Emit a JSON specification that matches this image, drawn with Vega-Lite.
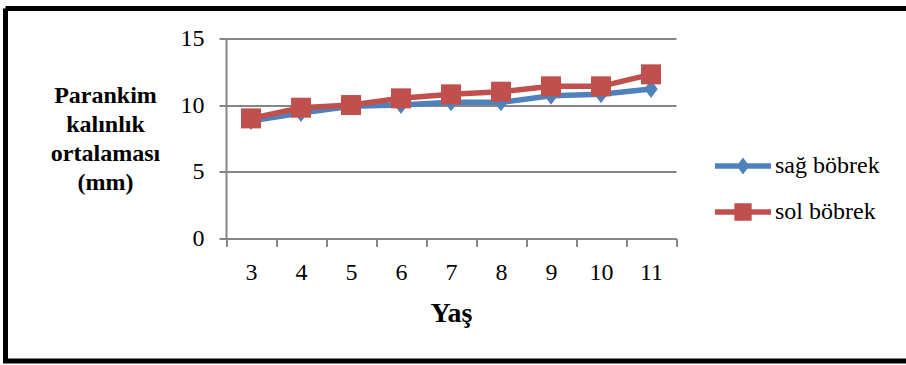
{
  "$schema": "https://vega.github.io/schema/vega-lite/v6.json",
  "width": 900.5,
  "height": 352.5,
  "autosize": {"type": "none"},
  "padding": {"left": 5.5, "top": 8.5, "right": 0, "bottom": 4},
  "background": "white",
  "config": {
    "font": "Times New Roman, Liberation Serif, serif",
    "view": {"stroke": "black", "strokeWidth": 5, "strokeDash": [900.5, 352.5, 1253, 0], "fill": "white"}
  },
  "data": {
    "values": [
      {"age": 3, "series": "sağ böbrek", "value": 8.8},
      {"age": 4, "series": "sağ böbrek", "value": 9.4},
      {"age": 5, "series": "sağ böbrek", "value": 9.9},
      {"age": 6, "series": "sağ böbrek", "value": 10.0},
      {"age": 7, "series": "sağ böbrek", "value": 10.2},
      {"age": 8, "series": "sağ böbrek", "value": 10.2},
      {"age": 9, "series": "sağ böbrek", "value": 10.7},
      {"age": 10, "series": "sağ böbrek", "value": 10.8},
      {"age": 11, "series": "sağ böbrek", "value": 11.2},
      {"age": 3, "series": "sol böbrek", "value": 9.0},
      {"age": 4, "series": "sol böbrek", "value": 9.8},
      {"age": 5, "series": "sol böbrek", "value": 10.0},
      {"age": 6, "series": "sol böbrek", "value": 10.5},
      {"age": 7, "series": "sol böbrek", "value": 10.8},
      {"age": 8, "series": "sol böbrek", "value": 11.0},
      {"age": 9, "series": "sol böbrek", "value": 11.4},
      {"age": 10, "series": "sol böbrek", "value": 11.4},
      {"age": 11, "series": "sol böbrek", "value": 12.3}
    ]
  },
  "encoding": {
    "x": {
      "field": "age",
      "type": "ordinal",
      "scale": {"type": "band", "range": [220.5, 670.5], "paddingInner": 0, "paddingOuter": 0},
      "axis": {
        "title": "Yaş",
        "labelAngle": 0,
        "offset": -122.5,
        "tickBand": "extent",
        "tickSize": 8,
        "tickWidth": 2,
        "tickColor": "#868686",
        "domainColor": "#868686",
        "domainWidth": 2,
        "labelPadding": 13.5,
        "labelFont": "Times New Roman, Liberation Serif, serif",
        "labelFontSize": 24,
        "labelColor": "black",
        "titleFont": "Times New Roman, Liberation Serif, serif",
        "titleFontSize": 28,
        "titleFontWeight": "bold",
        "titleColor": "black",
        "titleX": 445.5,
        "titleY": 83.2,
        "titleAlign": "center",
        "titleBaseline": "alphabetic",
        "grid": false
      }
    },
    "y": {
      "field": "value",
      "type": "quantitative",
      "scale": {"domain": [0, 15], "range": [230, 29.8], "nice": false, "zero": true},
      "axis": {
        "title": ["Parankim", "kalınlık", "ortalaması", "(mm)"],
        "values": [0, 5, 10, 15],
        "offset": -220.5,
        "tickSize": 7,
        "tickWidth": 2,
        "tickColor": "#868686",
        "domainColor": "#868686",
        "domainWidth": 2,
        "labelPadding": 15,
        "labelFont": "Times New Roman, Liberation Serif, serif",
        "labelFontSize": 24,
        "labelColor": "black",
        "grid": true,
        "gridColor": "#868686",
        "gridWidth": 2,
        "titleFont": "Times New Roman, Liberation Serif, serif",
        "titleFontSize": 24,
        "titleFontWeight": "bold",
        "titleColor": "black",
        "titleAngle": 0,
        "titleX": -121,
        "titleY": 94.2,
        "titleAlign": "center",
        "titleBaseline": "alphabetic",
        "titleLineHeight": 29
      }
    },
    "color": {
      "field": "series",
      "type": "nominal",
      "scale": {"domain": ["sağ böbrek", "sol böbrek"], "range": ["#4F81BD", "#C0504D"]},
      "legend": {
        "orient": "none",
        "legendX": 709.5,
        "legendY": 129.5,
        "title": null,
        "labelFont": "Times New Roman, Liberation Serif, serif",
        "labelFontSize": 24,
        "labelColor": "black",
        "labelOffset": 4,
        "rowPadding": 6,
        "symbolSize": 3136,
        "symbolStrokeWidth": 0,
        "encode": {
          "symbols": {
            "update": {
              "shape": {"signal": "datum.value === 'sağ böbrek' ? 'M-1,-0.1H-0.153L0,-0.3L0.153,-0.1H1V0.1H0.153L0,0.3L-0.153,0.1H-1Z' : 'M-1,-0.1H-0.31V-0.31H0.31V-0.1H1V0.1H0.31V0.31H-0.31V0.1H-1Z'"},
              "size": {"value": 3136},
              "fill": {"signal": "datum.value === 'sağ böbrek' ? '#4F81BD' : '#C0504D'"},
              "fillOpacity": {"value": 1},
              "opacity": {"value": 1},
              "strokeWidth": {"value": 0}
            }
          }
        }
      }
    }
  },
  "layer": [
    {
      "transform": [{"filter": "datum.series === 'sağ böbrek'"}],
      "mark": {"type": "line", "strokeWidth": 5.5}
    },
    {
      "transform": [{"filter": "datum.series === 'sağ böbrek'"}],
      "mark": {"type": "point", "filled": true, "opacity": 1, "shape": "M0,-1L0.75,0L0,1L-0.75,0Z", "size": 324}
    },
    {
      "transform": [{"filter": "datum.series === 'sol böbrek'"}],
      "mark": {"type": "line", "strokeWidth": 5.5}
    },
    {
      "transform": [{"filter": "datum.series === 'sol böbrek'"}],
      "mark": {"type": "point", "filled": true, "opacity": 1, "shape": "square", "size": 400}
    }
  ]
}
